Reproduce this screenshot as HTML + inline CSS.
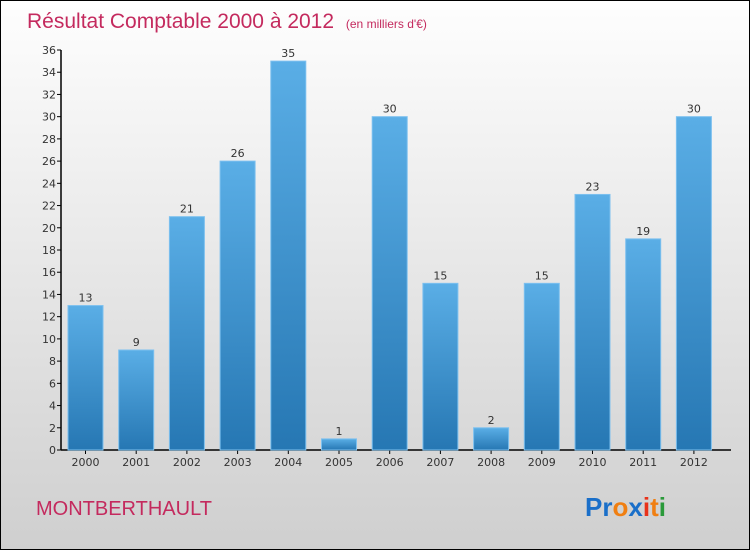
<!DOCTYPE html>
<html><head><meta charset="utf-8"><style>
body{margin:0}
#c{position:relative;width:748px;height:548px;border:1px solid #000;background:linear-gradient(#fefefe,#cfcfcf);font-family:"DejaVu Sans","Liberation Sans",sans-serif;overflow:hidden}
</style></head><body>
<div id="c">
<svg width="748" height="548">
<defs><linearGradient id="g" x1="0" y1="0" x2="0" y2="1"><stop offset="0" stop-color="#5aaee6"/><stop offset="1" stop-color="#2677b3"/></linearGradient></defs>
<text x="26" y="27" font-size="21" fill="#c42a5e" font-family="Liberation Sans,sans-serif">Résultat Comptable 2000 à 2012 <tspan font-size="12" dx="6">(en milliers d'€)</tspan></text>
<g id="axes"></g><g id="bars"></g>
<text x="35" y="514" font-size="20" fill="#c42a5e" font-family="Liberation Sans,sans-serif">MONTBERTHAULT</text>
<text x="584" y="515" font-size="26" font-weight="bold" font-family="Liberation Sans,sans-serif"><tspan fill="#1a6fc9">Pr</tspan><tspan fill="#f07f12">o</tspan><tspan fill="#1a6fc9">x</tspan><tspan fill="#e8321a">i</tspan><tspan fill="#f07f12">t</tspan><tspan fill="#2a9a3a">i</tspan></text>
</svg></div>
<script>
const years=["2000","2001","2002","2003","2004","2005","2006","2007","2008","2009","2010","2011","2012"];
const values=[13,9,21,26,35,1,30,15,2,15,23,19,30];
const ticks=[0,2,4,6,8,10,12,14,16,18,20,22,24,26,28,30,32,34,36];
const NS="http://www.w3.org/2000/svg";
const y0=449,yMax=36,plotH=400,x0=60,step=50.7,bw=35,first=67;
const ys=v=>y0-v/yMax*plotH;
const xs=i=>first+i*step;
function mk(t,a,p){const e=document.createElementNS(NS,t);for(const k in a)e.setAttribute(k,a[k]);p.appendChild(e);return e;}
const ax=document.getElementById('axes'),bg=document.getElementById('bars');
const yl=mk('line',{x1:x0,y1:ys(36),x2:x0,y2:y0,stroke:'#000','stroke-width':1.5},ax);


const xl=mk('line',{x1:x0,y1:y0,x2:730,y2:y0,stroke:'#000','stroke-width':1.5},ax);


ticks.forEach(t=>{
 mk('line',{x1:x0-4,x2:x0,y1:ys(t),y2:ys(t),stroke:'#000'},ax);
 const tx=mk('text',{x:x0-5,y:ys(t)+4,'font-size':11,'text-anchor':'end',fill:'#333'},ax);tx.textContent=t;
 
 
});
years.forEach((yr,i)=>{
 const x=xs(i),v=values[i];
 const r=mk('rect',{x:x,y:ys(v),width:bw,height:y0-ys(v),fill:'url(#g)',stroke:'#7cc0ef','stroke-width':1},bg);
 
 
 const l=mk('text',{x:x+bw/2,y:ys(v)-4,'font-size':11,'text-anchor':'middle',fill:'#333'},bg);l.textContent=v;
 
 
 mk('line',{x1:x+bw/2,x2:x+bw/2,y1:y0,y2:y0+4,stroke:'#000'},ax);
 const xt=mk('text',{x:x+bw/2,y:y0+16,'font-size':11,'text-anchor':'middle',fill:'#333'},ax);xt.textContent=yr;
 
 
});
</script>
</body></html>
